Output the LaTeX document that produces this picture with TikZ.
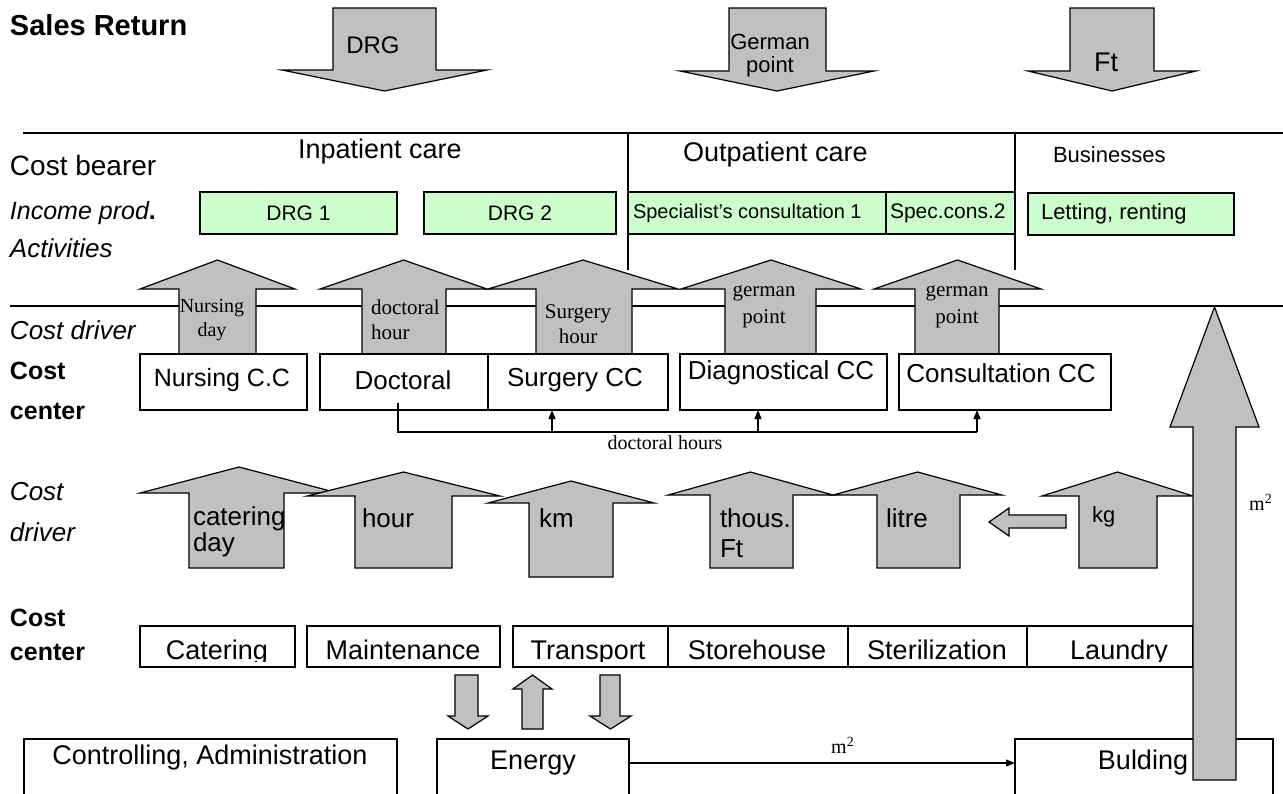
\documentclass[tikz,border=0pt]{standalone}
\usepackage{fontspec}
\setmainfont{Liberation Sans}
\newfontfamily\tms{Liberation Serif}
\usetikzlibrary{arrows.meta}
\definecolor{arrgray}{HTML}{C0C0C0}
\definecolor{lgreen}{HTML}{CCFFCC}
\newcommand\fsz[2][]{\fontsize{#2}{1.15\dimexpr#2\relax}\selectfont}
\newcommand\fsl[2]{\fontsize{#1}{#2}\selectfont}
% block arrow: head-left, shaft-left, shaft-right, head-right, tip y, shoulder y, tail y
\newcommand\blkarr[7]{\draw[blk] (#2,#7) -- (#2,#6) -- (#1,#6) -- ({(#1+#4)/2},#5) -- (#4,#6) -- (#3,#6) -- (#3,#7) -- cycle;}
% box node: x1,y1,x2,y2,name,style
\newcommand\bx[6]{\node[#6,minimum width={(#3-#1)*0.5pt},minimum height={(#4-#2)*0.5pt}] (#5) at ({(#1+#3)/2},{(#2+#4)/2}) {};}
\begin{document}
\begin{tikzpicture}[x=0.5pt,y=-0.5pt,
  blk/.style={draw=black,fill=arrgray,line width=0.6pt,line join=miter},
  box/.style={draw=black,fill=white,line width=0.6pt,inner sep=0,outer sep=0},
  gbox/.style={draw=black,fill=lgreen,line width=0.6pt,inner sep=0,outer sep=0},
  txt/.style={inner sep=0,outer sep=0},
  ln/.style={line width=0.6pt},
  conn/.style={line width=0.6pt,-{Triangle[length=4.5pt,width=3.5pt]}}]
\useasboundingbox (0,0) rectangle (1283,793);

% ---------- Sales return ----------
\node[txt,anchor=west,font=\bfseries\fsz{14.5pt}] (sales) at (10,25) {Sales Return};
\blkarr{282}{333}{436}{487}{91}{70}{8}
\blkarr{680}{729}{826}{874}{91}{71}{8}
\blkarr{1028}{1070}{1154}{1196}{91}{71}{8}
\node[txt,font=\fsz{12pt}] (tdrg) at (373,45) {DRG};
\node[txt,font=\fsl{11pt}{11.5pt},align=center] (tgerman) at (770,56) {German\\point};
\node[txt,font=\fsz{13.5pt}] (tft) at (1106,62) {Ft};

% ---------- Cost bearer ----------
\draw[ln] (23,133) -- (1283,133);
\draw[ln] (628,133) -- (628,270);
\draw[ln] (1015,133) -- (1015,270);
\node[txt,anchor=west,font=\fsz{14pt}] (lbear) at (10,165) {Cost bearer};
\node[txt,anchor=west,font=\fsz{13.5pt}] (inpat) at (298,152) {Inpatient care};
\node[txt,anchor=west,font=\fsz{13.5pt}] (outpat) at (683,155) {Outpatient care};
\node[txt,anchor=west,font=\fsz{11pt}] (busin) at (1053,155) {Businesses};
\node[txt,anchor=west,font=\fsz{12.5pt}] (lincome) at (10,213) {\itshape Income prod\upshape\bfseries.};
\node[txt,anchor=west,font=\itshape\fsz{13pt}] (lactiv) at (10,248) {Activities};

\bx{200}{192}{397}{234}{drg1}{gbox}
\bx{424}{192}{616}{234}{drg2}{gbox}
\bx{628}{192}{886}{234}{spec1}{gbox}
\bx{886}{192}{1015}{234}{spec2}{gbox}
\bx{1028}{193}{1234}{235}{letting}{gbox}
\node[txt,font=\fsz{10.5pt}] (tdrg1) at (drg1) {DRG 1};
\node[txt,font=\fsz{10.5pt}] (tdrg2) at (drg2) {DRG 2};
\node[txt,anchor=west,font=\fsz{10pt}] (tspec1) at (633,213) {Specialist’s consultation 1};
\node[txt,anchor=west,font=\fsz{10.5pt}] (tspec2) at (890,213) {Spec.cons.2};
\node[txt,anchor=west,font=\fsz{11pt}] (tlet) at (1041,214) {Letting, renting};

% ---------- upper cost driver ----------
\draw[ln] (10,306) -- (1283,306);
\node[txt,anchor=west,font=\itshape\fsz{13pt}] (ldrv1) at (10,330) {Cost driver};
\blkarr{140}{179}{256}{295}{260}{289}{354}
\blkarr{320}{362}{446}{487}{260}{289}{354}
\blkarr{488}{536}{632}{678}{260}{289}{354}
\blkarr{681}{725}{816}{861}{260}{289}{354}
\blkarr{874}{915}{999}{1041}{260}{289}{354}
\node[txt,font=\tms\fsl{10pt}{12pt},align=center] (anurs) at (212,320) {Nursing\\day};
\node[txt,anchor=west,font=\tms\fsl{10.5pt}{12.5pt},align=left] (adoc) at (371,320) {doctoral\\hour};
\node[txt,font=\tms\fsl{10.5pt}{12.5pt},align=center] (asurg) at (578,324) {Surgery\\hour};
\node[txt,font=\tms\fsl{10.5pt}{13.5pt},align=center] (adiag) at (764,307) {german\\point};
\node[txt,font=\tms\fsl{10.5pt}{13.5pt},align=center] (acons) at (957,307) {german\\point};

% ---------- upper cost centers ----------
\node[txt,anchor=west,font=\bfseries\fsz{12.5pt}] (lcc1a) at (10,371) {Cost};
\node[txt,anchor=west,font=\bfseries\fsz{12.5pt}] (lcc1b) at (10,411) {center};
\bx{140}{354}{307}{410}{nursc}{box}
\bx{320}{354}{488}{410}{doc}{box}
\bx{488}{354}{668}{410}{surg}{box}
\bx{680}{354}{887}{410}{diag}{box}
\bx{899}{354}{1111}{410}{cons}{box}
\node[txt,font=\fsz{12.5pt}] (tnursc) at (222,380) {Nursing C.C};
\node[txt,font=\fsz{13pt}] (tdoc) at (403,380) {Doctoral};
\node[txt,font=\fsz{13pt}] (tsurg) at (575,380) {Surgery CC};
\node[txt,font=\fsz{13pt}] (tdiag) at (781,373) {Diagnostical CC};
\node[txt,font=\fsz{13pt}] (tcons) at (1001,373) {Consultation CC};

% doctoral hours connector
\coordinate (dstart) at (398,403);
\coordinate (dcorner) at (398,432);
\coordinate (j1) at (552,432);
\coordinate (j2) at (758,432);
\coordinate (j3) at (977,432);
\draw[ln] (dstart) -- (dcorner) -- (j3);
\draw[conn] (j1) -- (j1 |- surg.south);
\draw[conn] (j2) -- (j2 |- diag.south);
\draw[conn] (j3) -- (j3 |- cons.south);
\node[txt,font=\tms\fsz{10pt}] (tdh) at (665,443) {doctoral hours};

% ---------- lower cost driver ----------
\node[txt,anchor=west,font=\itshape\fsz{13pt}] (ldrv2a) at (10,492) {Cost};
\node[txt,anchor=west,font=\itshape\fsz{13pt}] (ldrv2b) at (10,532) {driver};
\blkarr{140}{189}{284}{338}{467}{493}{568}
\blkarr{307}{355}{452}{500}{472}{496}{568}
\blkarr{488}{529}{613}{654}{481}{503}{577}
\blkarr{668}{710}{793}{833}{472}{495}{568}
\blkarr{833}{877}{960}{1002}{472}{495}{568}
\blkarr{1042}{1079}{1157}{1193}{472}{496}{568}
\draw[blk] (1066,515) -- (1009,515) -- (1009,508) -- (989,522) -- (1009,536) -- (1009,528) -- (1066,528) -- cycle;
\node[txt,anchor=west,font=\fsl{13pt}{11.5pt},align=left] (bcat) at (193,532) {catering\\day};
\node[txt,anchor=west,font=\fsz{13pt}] (bhour) at (362,518) {hour};
\node[txt,anchor=west,font=\fsz{13pt}] (bkm) at (539,518) {km};
\node[txt,anchor=west,font=\fsl{13pt}{15pt},align=left] (bthous) at (720,533) {thous.\\Ft};
\node[txt,anchor=west,font=\fsz{13pt}] (blitre) at (886,518) {litre};
\node[txt,anchor=west,font=\fsz{11pt}] (bkg) at (1092,517) {kg};

% ---------- lower cost centers ----------
\node[txt,anchor=west,font=\bfseries\fsz{12.5pt}] (lcc2a) at (10,618) {Cost};
\node[txt,anchor=west,font=\bfseries\fsz{12.5pt}] (lcc2b) at (10,652) {center};
\bx{140}{626}{295}{667}{cater}{box}
\bx{307}{626}{500}{667}{maint}{box}
\bx{513}{626}{668}{667}{transp}{box}
\bx{668}{626}{848}{667}{store}{box}
\bx{848}{626}{1027}{667}{steril}{box}
\bx{1027}{626}{1193}{667}{laund}{box}
\begin{scope}
\clip (140,627) rectangle (1193,661);
\node[txt,anchor=base,font=\fsz{13.5pt}] (tcater) at (217,659) {Catering};
\node[txt,anchor=base,font=\fsz{13.5pt}] (tmaint) at (403,659) {Maintenance};
\node[txt,anchor=base,font=\fsz{13.5pt}] (ttransp) at (588,659) {Transport};
\node[txt,anchor=base,font=\fsz{13.5pt}] (tstore) at (757,659) {Storehouse};
\node[txt,anchor=base,font=\fsz{13.5pt}] (tsteril) at (937,659) {Sterilization};
\node[txt,anchor=base,font=\fsz{13.5pt}] (tlaund) at (1119,659) {Laundry};
\end{scope}

% small arrows between maintenance/transport and energy
\blkarr{448}{455}{478}{488}{729}{716}{675}
\blkarr{513}{522}{543}{552}{675}{689}{729}
\blkarr{590}{600}{620}{631}{729}{716}{675}

% ---------- bottom row ----------
\bx{24}{739}{397}{802}{ctrl}{box}
\bx{437}{739}{629}{802}{energy}{box}
\bx{1015}{739}{1273}{802}{bldg}{box}
\node[txt,font=\fsz{13.5pt}] (tctrl) at (210,758) {Controlling, Administration};
\node[txt,font=\fsz{13.5pt}] (tenergy) at (533,763) {Energy};
\node[txt,font=\fsz{13.5pt}] (tbldg) at (1143,763) {Bulding};
\coordinate (eout) at (629,763);
\draw[conn] (eout) -- (eout -| bldg.west);
\node[txt,font=\tms\fsz{10pt}] (m2a) at (843,745) {m\textsuperscript{2}};

% big arrow from building
\blkarr{1170}{1193}{1236}{1259}{307}{427}{780}
\node[txt,font=\tms\fsz{10pt}] (m2b) at (1261,502) {m\textsuperscript{2}};
\end{tikzpicture}
\end{document}
